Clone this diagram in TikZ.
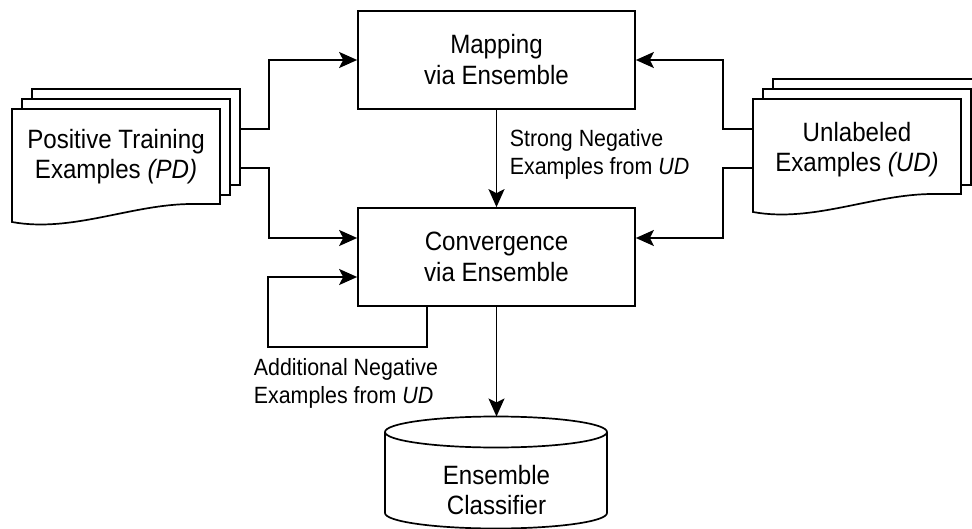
\documentclass[tikz,border=0pt]{standalone}
\usepackage{fontspec}
\setmainfont{Liberation Sans}[FakeStretch=0.91]
\usetikzlibrary{arrows.meta}
\begin{document}
\begin{tikzpicture}[x=1pt,y=-1pt,
  line width=1.7pt,
  arr/.style={-{Stealth[length=18pt,width=16pt,inset=4pt]}},
  procbox/.style={draw,fill=white,minimum width=277pt,minimum height=98pt,inner sep=0pt,align=center,font=\fontsize{26.5}{31}\selectfont},
  lbl/.style={align=left,inner sep=0pt,font=\fontsize{23.5}{28}\selectfont},
  doctext/.style={align=center,inner sep=0pt,font=\fontsize{26.5}{30}\selectfont},
  sheet/.style={draw,fill=white}]
\useasboundingbox (0,0) rectangle (972,529);

% document stacks
\begin{scope}[shift={(12,109)}]
  \draw[sheet] (20,-20) rectangle (228,76);
  \draw[sheet] (10,-10) rectangle (218,86);
  \draw[sheet] (0,0) -- (208,0) -- (208,95) -- (180,95) .. controls (120,95) and (60,124) .. (0,113) -- cycle;
\end{scope}
\begin{scope}[shift={(753,99)}]
  \draw[sheet] (20,-20) rectangle (228,76);
  \draw[sheet] (10,-10) rectangle (218,86);
  \draw[sheet] (0,0) -- (208,0) -- (208,95) -- (180,95) .. controls (120,95) and (60,124) .. (0,113) -- cycle;
\end{scope}
\node[doctext] (pd) at (116,157) {Positive Training\\Examples \textit{(PD)}};
\node[doctext] (ud) at (857,150) {Unlabeled\\Examples \textit{(UD)}};
\coordinate (pdA) at (240,129);
\coordinate (pdB) at (240,168);
\coordinate (udA) at (753,129);
\coordinate (udB) at (753,168);

% process boxes
\node[procbox] (map) at (496.5,60) {Mapping\\via Ensemble};
\node[procbox] (conv) at (496.5,257) {Convergence\\via Ensemble};

% cylinder
\draw[fill=white] (385,432) -- (385,513) arc[start angle=180,end angle=360,x radius=111pt,y radius=15.5pt] -- (607,432);
\draw[fill=white] (496,432) ellipse[x radius=111pt,y radius=15.5pt];
\coordinate (cyltop) at (496.5,416.5);
\node[doctext] (cyl) at (496.5,490) {Ensemble\\Classifier};

% connectors
\draw[arr] (pdA) -- ++(29,0) |- (map.west);
\draw[arr] (pdB) -- ++(29,0) |- ([yshift=19pt]conv.west);
\draw[arr] (udA) -- ++(-30,0) |- (map.east);
\draw[arr] (udB) -- ++(-30,0) |- ([yshift=19pt]conv.east);
\draw[arr] (map.south) -- (conv.north);
\draw[arr] ([xshift=-69.5pt]conv.south) -- ++(0,40) -| ([xshift=-89pt,yshift=-20pt]conv.west) -- ([yshift=-20pt]conv.west);
\draw[arr] (conv.south) -- (cyltop);

% labels
\node[lbl,anchor=west] (strong) at (509,154) {Strong Negative\\Examples from \textit{UD}};
\node[lbl,anchor=west] (addl) at (253,383) {Additional Negative\\Examples from \textit{UD}};
\end{tikzpicture}
\end{document}
